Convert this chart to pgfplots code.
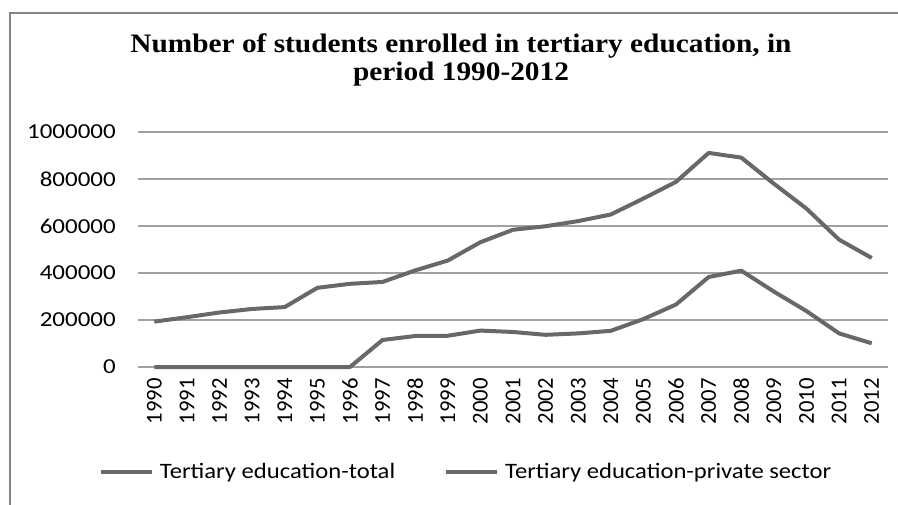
\documentclass[border=0pt]{standalone}
\usepackage{fontspec}
\setmainfont{Carlito}
\newfontfamily\titlefont[FakeStretch=1.1]{Liberation Serif}
\newfontfamily\ytickfont[FakeStretch=1.17]{Carlito}
\newfontfamily\legfont[FakeStretch=1.12]{Carlito}
\usepackage{pgfplots}
\usepackage{pgfplotstable}
\pgfplotsset{compat=1.18}
\definecolor{serie}{RGB}{104,104,104}
\definecolor{gridc}{RGB}{160,160,160}
\definecolor{framec}{RGB}{134,134,134}

\pgfplotstableread{
idx total private
0 193000 0
1 212000 0
2 232000 0
3 247000 0
4 255000 0
5 337000 0
6 354000 0
7 362000 115000
8 411000 132000
9 453000 133000
10 531000 155000
11 584000 149000
12 599000 137000
13 621000 143000
14 649000 154000
15 717000 204000
16 788000 266000
17 911000 383000
18 891000 410000
19 780000 321000
20 674000 238000
21 542000 143000
22 464000 101000
}\datatable

\begin{document}
\begin{tikzpicture}
\useasboundingbox (0pt,0pt) rectangle (673.5pt,-378pt);
\draw[framec, line width=1.5pt] (7.5pt,-385pt) -- (7.5pt,-9.75pt) -- (685pt,-9.75pt);
\node[anchor=base, inner sep=0pt, font=\titlefont\bfseries\fontsize{20}{20}\selectfont] at (345.75pt,-39pt) {Number of students enrolled in tertiary education, in};
\node[anchor=base, inner sep=0pt, font=\titlefont\bfseries\fontsize{20}{20}\selectfont] at (345.75pt,-60pt) {period 1990-2012};
\begin{axis}[
  at={(103.5pt,-275.25pt)}, anchor=south west,
  scale only axis, width=562.5pt, height=176.25pt,
  xmin=-0.5, xmax=22.5, ymin=0, ymax=1000000,
  scaled y ticks=false,
  xtick={0,1,...,22},
  xticklabels={1990,1991,1992,1993,1994,1995,1996,1997,1998,1999,2000,2001,2002,2003,2004,2005,2006,2007,2008,2009,2010,2011,2012},
  ytick={0,200000,400000,600000,800000,1000000},
  yticklabels={0,200000,400000,600000,800000,1000000},
  major tick length=0pt,
  axis line style={draw=none},
  ymajorgrids, grid style={gridc, line width=1pt},
  xticklabel style={rotate=90, anchor=east, inner sep=0pt, font=\fontsize{17}{17}\selectfont},
  yticklabel style={anchor=east, inner sep=0pt, font=\ytickfont\fontsize{16}{16}\selectfont},
  xticklabel shift=8.25pt, yticklabel shift=16.5pt,
  clip=false,
  legend columns=2,
  legend style={at={(-0.052,-0.4468)}, anchor=west, draw=none, fill=none,
    inner sep=0pt, outer sep=0pt,
    font=\legfont\fontsize{16.5}{16.5}\selectfont,
    nodes={inner sep=0pt},
    /tikz/every even column/.append style={column sep=36.75pt}},
  legend image code/.code={\draw[#1] (0pt,0pt) -- (38.25pt,0pt); \path (42.75pt,0pt);},
]
\addplot[serie, line width=3pt, line join=round, mark=none] table[x=idx, y=total] {\datatable};
\addlegendentry{Tertiary education-total}
\addplot[serie, line width=3pt, line join=round, mark=none] table[x=idx, y=private] {\datatable};
\addlegendentry{Tertiary education-private sector}
\end{axis}
\end{tikzpicture}
\end{document}
